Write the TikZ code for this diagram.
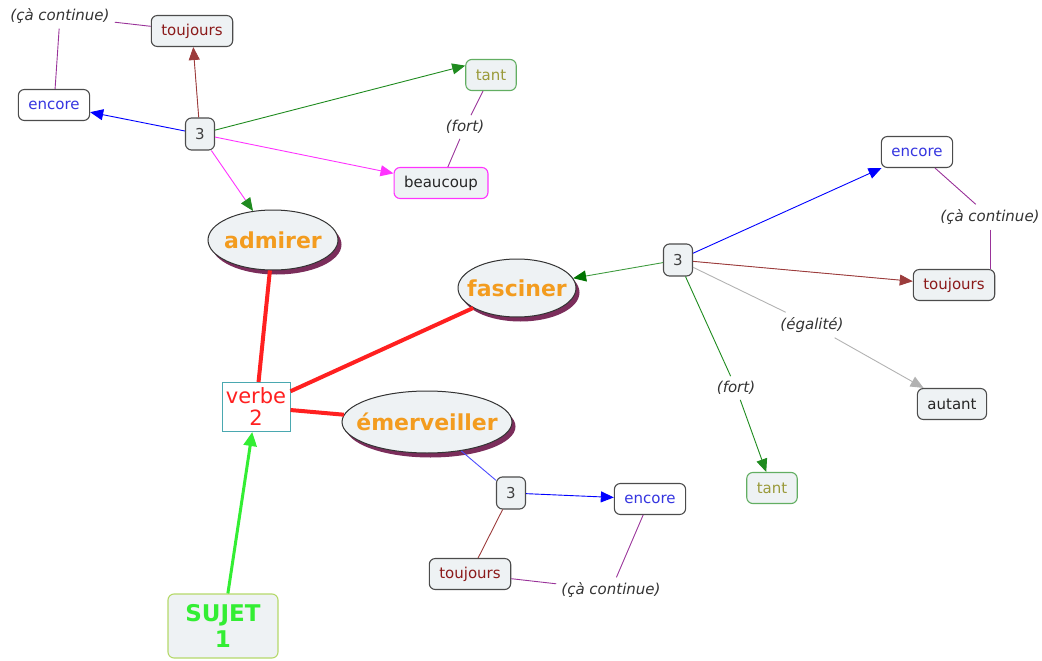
\documentclass[tikz,border=0pt]{standalone}
\usepackage{fontspec}
\setmainfont{DejaVu Sans}
\usetikzlibrary{shapes.geometric,arrows.meta,shadows}
\definecolor{boxfill}{HTML}{EEF2F4}
\definecolor{verbor}{HTML}{F39C1F}
\definecolor{shadowc}{HTML}{7B2D5B}
\definecolor{tiec}{HTML}{993399}
\definecolor{dkred}{HTML}{8B1A1A}
\definecolor{dkgreen}{HTML}{1F8B1F}
\definecolor{tantc}{HTML}{9A9A3A}
\definecolor{encc}{HTML}{3535E0}
\definecolor{bondred}{HTML}{FF2020}
\definecolor{sujetg}{HTML}{33EE33}
\definecolor{magc}{HTML}{FF33FF}
\definecolor{verbebd}{HTML}{4AA8B0}
\definecolor{sujetbd}{HTML}{B5D96A}

\begin{document}
\begin{tikzpicture}[x=1pt, y=-1pt,
    concept/.style={draw=black!70, fill=boxfill, rounded corners=6pt, line width=1.1pt,
        font=\fontsize{15}{17}\selectfont, inner xsep=10pt, minimum height=31pt},
    numbox/.style={concept, minimum width=29pt, minimum height=32pt, inner sep=0pt, text=black!75},
    verbnode/.style={ellipse, draw=black!80, fill=boxfill, line width=1pt,
        font=\bfseries\fontsize{22}{24}\selectfont, text=verbor, inner xsep=-12pt, inner ysep=0pt,
        drop shadow={shadow xshift=3.5pt, shadow yshift=-4.5pt, fill=shadowc, opacity=1}},
    linklabel/.style={font=\itshape\fontsize{15}{17}\selectfont, text=black!80, inner sep=5pt},
    arr/.style={-{Triangle[length=13pt,width=11pt]}, line width=0.9pt},
    tie/.style={draw=tiec, line width=0.9pt},
    bond/.style={draw=bondred, line width=4pt}]
    \useasboundingbox (0,0) rectangle (1042,661);

    \node [verbnode, minimum width=130pt, minimum height=60pt] (admirer) at (273,240) {admirer};
    \node [verbnode, minimum width=118pt, minimum height=58pt] (fasciner) at (517,288) {fasciner};
    \node [verbnode, minimum width=170pt, minimum height=62pt] (emerv) at (427,422) {émerveiller};
    \node [draw=verbebd, fill=white, line width=1pt, text=bondred, align=center, inner sep=1pt,
        minimum width=68pt, minimum height=49pt, font=\fontsize{21}{22}\selectfont] (verbe) at (256,407) {verbe\\2};
    \node [concept, draw=sujetbd, text=sujetg, align=center, minimum width=110pt, minimum height=64pt,
        font=\bfseries\fontsize{23}{26}\selectfont] (sujet) at (223,626) {SUJET\\1};

    \node [numbox] (n1) at (200,134) {3};
    \node [concept, fill=white, text=encc] (enc1) at (54,105) {encore};
    \node [concept, text=dkred] (tj1) at (192,31) {toujours};
    \node [concept, draw=dkgreen!70, text=tantc] (tant1) at (491,75) {tant};
    \node [concept, draw=magc, text=black!85] (beau) at (441,183) {beaucoup};
    \node [linklabel] (cc1) at (60,16) {(çà continue)};
    \node [linklabel] (fort1) at (465,127) {(fort)};

    \node [numbox] (n2) at (678,260) {3};
    \node [concept, fill=white, text=encc] (enc2) at (917,152) {encore};
    \node [concept, text=dkred] (tj2) at (954,285) {toujours};
    \node [concept, text=black!85] (aut) at (952,404) {autant};
    \node [concept, draw=dkgreen!70, text=tantc] (tant2) at (772,488) {tant};
    \node [linklabel] (cc2) at (990,217) {(çà continue)};
    \node [linklabel] (eg) at (812,325) {(égalité)};
    \node [linklabel] (fort2) at (736,388) {(fort)};

    \node [numbox] (n3) at (511,493) {3};
    \node [concept, fill=white, text=encc] (enc3) at (650,499) {encore};
    \node [concept, text=dkred] (tj3) at (470,574) {toujours};
    \node [linklabel] (cc3) at (611,590) {(çà continue)};

    \draw [bond] (admirer) -- (verbe);
    \draw [bond] (fasciner) -- (verbe);
    \draw [bond] (emerv) -- (verbe);
    \draw [arr, draw=sujetg, line width=3pt, -{Triangle[length=14pt,width=13pt]}] (sujet) -- (verbe);

    \draw [arr, blue] (n1) -- (enc1);
    \draw [arr, draw=dkred!85, fill=dkred] (n1) -- (tj1);
    \draw [arr, dkgreen] (n1) -- (tant1.160);
    \draw [arr, magc] (n1) -- (beau);
    \draw [arr, draw=magc, -{Triangle[length=13pt,width=11pt,color=dkgreen]}] (n1) -- (admirer);
    \draw [tie] (tj1) -- (cc1);
    \draw [tie] (cc1) -- (enc1);
    \draw [tie] (tant1) -- (fort1);
    \draw [tie] (fort1) -- (beau);

    \draw [arr, draw=dkgreen!85, -{Triangle[length=13pt,width=11pt,color=green!45!black]}] (n2) -- (fasciner);
    \draw [arr, blue] (n2) -- (enc2);
    \draw [arr, draw=dkred!85, fill=dkred] (n2) -- (tj2);
    \draw [tie] (enc2) -- (cc2);
    \draw [tie] (cc2.south) -- (cc2.south |- tj2.north);
    \draw [gray!60, line width=0.9pt] (n2) -- (eg);
    \draw [arr, gray!60] (eg) -- (aut);
    \draw [dkgreen, line width=0.9pt] (n2) -- (fort2);
    \draw [arr, dkgreen] (fort2) -- (tant2);

    \draw [blue!70, line width=0.9pt] (emerv) -- (n3);
    \draw [arr, blue] (n3) -- (enc3);
    \draw [dkred!85, line width=0.9pt] (n3) -- (tj3);
    \draw [tie] (tj3) -- (cc3);
    \draw [tie] (cc3) -- (enc3);
\end{tikzpicture}
\end{document}
